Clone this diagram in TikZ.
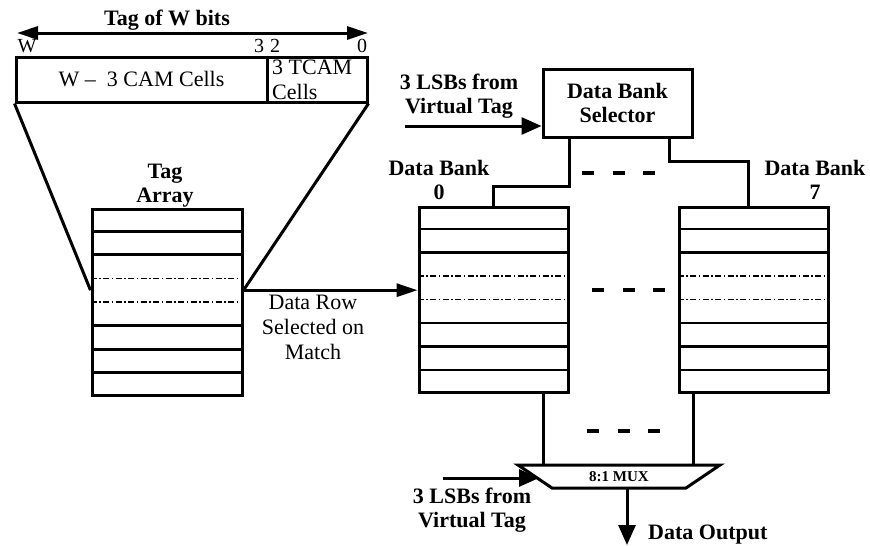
\documentclass[tikz,border=0pt]{standalone}
\usepackage{fontspec}
\setmainfont{Liberation Serif}
\usetikzlibrary{arrows.meta,calc}
\tikzset{
  box/.style={draw, line width=3pt, inner sep=0pt},
  conn/.style={line width=3pt},
  rowline/.style={line width=2.8pt},
  dashdotline/.style={line width=1.6pt, dash pattern=on 6pt off 2.5pt on 1.5pt off 2.5pt},
  gapdash/.style={line width=3.5pt, dash pattern=on 12pt off 18.5pt},
  lbl/.style={font=\bfseries\fontsize{22}{24}\selectfont, align=center, inner sep=0pt},
  txt/.style={font=\fontsize{22}{25}\selectfont, align=center, inner sep=0pt},
  numlbl/.style={font=\fontsize{20}{20}\selectfont, inner sep=0pt},
  arr/.style={line width=3pt, -{Triangle[length=20pt,width=17pt]}},
  narrarr/.style={line width=3pt, -{Triangle[length=21pt,width=13pt]}},
  both-arr/.style={line width=3pt, {Triangle[length=21pt,width=13pt]}-{Triangle[length=21pt,width=13pt]}},
}
\newcommand\myrows[1]{%
  \foreach \k in {1,2,5,6,7}
    \draw[rowline] ($(#1.north west)!\k/8!(#1.south west)$) -- ($(#1.north east)!\k/8!(#1.south east)$);
  \foreach \k in {3,4}
    \draw[dashdotline] ($(#1.north west)!\k/8!(#1.south west)$) -- ($(#1.north east)!\k/8!(#1.south east)$);
}
\begin{document}
\begin{tikzpicture}[x=1pt,y=-1pt]
\useasboundingbox (0,0) rectangle (870,546);

% Tag of W bits
\coordinate (wl) at (17,33);
\coordinate (wr) at (368,33);
\draw[both-arr] (wl) -- (wr);
\node[lbl] (tagw) at (167,20) {Tag of W bits};
\node[numlbl] (nW) at (27,46) {W};
\node[numlbl] (n3) at (259,46) {3};
\node[numlbl] (n2) at (275,46) {2};
\node[numlbl] (n0) at (362,46) {0};

% Tag word box
\node[box, txt, minimum width=251pt, minimum height=45pt] (cam) at (141.5,79.5) {W –\ \ 3 CAM Cells};
\node[box, minimum width=100pt, minimum height=45pt] (tcam) at (317,79.5) {};
\node[txt, anchor=west, align=left] (tcamtxt) at (272,80) {3 TCAM\\Cells};

% Tag array
\node[lbl] (taglbl) at (165,186) {Tag\\Array};
\node[box, minimum width=150pt, minimum height=186pt] (tagarr) at (167,302) {};
\myrows{tagarr}
\coordinate (tagL) at ($(tagarr.north west)!0.4375!(tagarr.south west)$);
\coordinate (tagR) at ($(tagarr.north east)!0.4375!(tagarr.south east)$);
\draw[conn] (cam.south west) -- (tagL);
\draw[conn] (tcam.south east) -- (tagR);

% Data banks
\node[box, minimum width=149pt, minimum height=185pt] (bank0) at (493.5,299.5) {};
\node[box, minimum width=149pt, minimum height=185pt] (bank7) at (753.5,299.5) {};
\myrows{bank0}
\myrows{bank7}
\node[lbl] (b0lbl) at (439,180) {Data Bank\\0};
\node[lbl] (b7lbl) at (815,180) {Data Bank\\7};

\draw[narrarr] (tagR) -- (tagR -| bank0.west);
\node[txt] (rowtxt) at (313,327) {Data Row\\Selected on\\Match};

% Selector
\node[box, lbl, minimum width=149pt, minimum height=68pt] (sel) at (617.5,103) {Data Bank\\Selector};
\coordinate (in1) at (405,126);
\draw[arr] (in1) -- (in1 -| sel.west);
\node[lbl] (in1txt) at (459,96) {3 LSBs from\\Virtual Tag};
\draw[conn] ([xshift=-48.5pt]sel.south) -- ++(0,48) -| (bank0.north);
\draw[conn] ([xshift=51.5pt]sel.south) -- ++(0,23) -| ([xshift=-5.5pt]bank7.north);

% dashes
\coordinate (d1a) at (582,173); \coordinate (d1b) at (656,173);
\coordinate (d2a) at (592,290); \coordinate (d2b) at (667,290);
\coordinate (d3a) at (587,431); \coordinate (d3b) at (661,431);
\draw[gapdash] (d1a) -- (d1b);
\draw[gapdash] (d2a) -- (d2b);
\draw[gapdash] (d3a) -- (d3b);

% MUX
\coordinate (mtl) at (518,465);
\coordinate (mtr) at (720,465);
\coordinate (mbr) at (686,488);
\coordinate (mbl) at (552,488);
\draw[box, line join=miter] (mtl) -- (mtr) -- (mbr) -- (mbl) -- cycle;
\node[font=\bfseries\fontsize{15}{16}\selectfont, inner sep=0pt] (mux) at (619,477) {8:1 MUX};
\draw[conn] ([xshift=49.5pt]bank0.south) -- ([xshift=49.5pt]bank0.south |- mtl);
\draw[conn] ([xshift=-60.5pt]bank7.south) -- ([xshift=-60.5pt]bank7.south |- mtl);
\coordinate (in2) at (443,478);
\coordinate (muxin) at (539,478);
\draw[arr] (in2) -- (muxin);
\node[lbl] (in2txt) at (472,510) {3 LSBs from\\Virtual Tag};
\coordinate (muxout) at (627,488);
\coordinate (dout) at (627,545);
\draw[arr] (muxout) -- (dout);
\node[lbl, anchor=west] (douttxt) at (648,535) {Data Output};
\end{tikzpicture}
\end{document}
